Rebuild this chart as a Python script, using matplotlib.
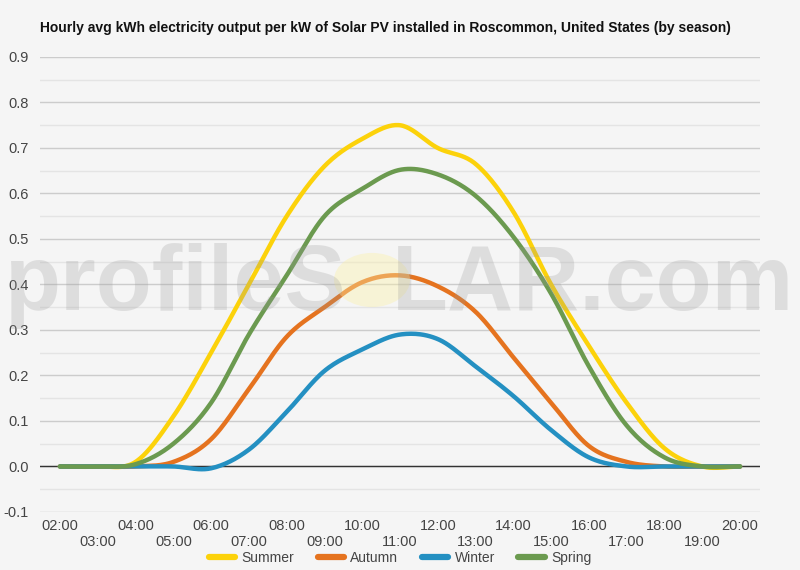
import numpy as np
import matplotlib
matplotlib.use("Agg")
import matplotlib.pyplot as plt
from matplotlib.patches import Circle

plt.rcParams['font.family'] = ['Liberation Sans', 'DejaVu Sans']

hours = list(range(2, 21))
hour_labels = ['%02d:00' % h for h in hours]

summer = [0.0, 0.0, 0.01, 0.11, 0.25, 0.40, 0.55, 0.66, 0.72, 0.75, 0.70, 0.665, 0.56, 0.40, 0.265, 0.14, 0.04, 0.0, 0.0]
autumn = [0.0, 0.0, 0.0, 0.01, 0.06, 0.17, 0.285, 0.35, 0.405, 0.42, 0.396, 0.34, 0.24, 0.14, 0.045, 0.01, 0.0, 0.0, 0.0]
winter = [0.0, 0.0, 0.0, 0.0, -0.004, 0.037, 0.12, 0.21, 0.257, 0.29, 0.28, 0.22, 0.155, 0.08, 0.02, 0.0, 0.0, 0.0, 0.0]
spring = [0.0, 0.0, 0.005, 0.05, 0.14, 0.29, 0.42, 0.55, 0.61, 0.652, 0.642, 0.595, 0.505, 0.38, 0.22, 0.09, 0.02, 0.0, 0.0]

series = [('Summer', summer, '#fcd20a'),
          ('Autumn', autumn, '#e5731f'),
          ('Winter', winter, '#2490c2'),
          ('Spring', spring, '#6b9a4f')]


def smooth(x, y, n=24):
    # cubic hermite curve through the points (catmull-rom tangents)
    x = np.asarray(x, float)
    y = np.asarray(y, float)
    m = np.gradient(y, x)
    m[0] = m[-1] = 0
    xs, ys = [], []
    for i in range(len(x) - 1):
        t = np.linspace(0, 1, n, endpoint=False)
        h = x[i + 1] - x[i]
        h00 = 2 * t**3 - 3 * t**2 + 1
        h10 = t**3 - 2 * t**2 + t
        h01 = -2 * t**3 + 3 * t**2
        h11 = t**3 - t**2
        xs.append(x[i] + t * h)
        ys.append(h00 * y[i] + h10 * h * m[i] + h01 * y[i + 1] + h11 * h * m[i + 1])
    xs.append([x[-1]])
    ys.append([y[-1]])
    return np.concatenate(xs), np.concatenate(ys)


fig = plt.figure(figsize=(8, 5.7), dpi=100, facecolor='#f5f5f5')
ax = fig.add_axes([0.05, 0.1018, 0.90, 0.7982])
ax.set_facecolor('#f5f5f5')

ax.set_ylim(-0.1, 0.9)
ax.set_xlim(2 - 20 / 37.8, 20 + 20 / 37.8)
ax.set_yticks(np.arange(-0.1, 0.91, 0.1))
ax.set_yticks(np.arange(-0.05, 0.9, 0.1), minor=True)
ax.set_yticklabels(['%.1f' % v for v in np.arange(-0.1, 0.91, 0.1)])
ax.grid(axis='y', which='major', color='#cccccc', linewidth=1)
ax.grid(axis='y', which='minor', color='#e4e4e4', linewidth=1)
ax.axhline(0, color='#333333', linewidth=1, zorder=2)
ax.set_axisbelow(True)
for s in ax.spines.values():
    s.set_visible(False)

ax.set_xticks(hours)
ax.set_xticklabels([lab if i % 2 == 0 else '\n' + lab for i, lab in enumerate(hour_labels)])
ax.tick_params(axis='both', which='both', length=0, labelsize=10.5, labelcolor='#444444')
ax.tick_params(axis='x', pad=5)
ax.tick_params(axis='y', pad=8)

for name, vals, col in series:
    sx, sy = smooth(hours, vals)
    ax.plot(sx, sy, color=col, linewidth=3.2, label=name, solid_capstyle='round', zorder=3)

# watermark
base_y = 1 - 310 / 570
fig.text(5 / 800, base_y, 'profileS', fontsize=66, fontweight='bold', color='#999999',
         alpha=0.25, va='baseline', ha='left', zorder=10)
fig.text(794 / 800, base_y, 'LAR.com', fontsize=66, fontweight='bold', color='#999999',
         alpha=0.25, va='baseline', ha='right', zorder=10)
fig.patches.append(Circle((372 / 800, 1 - 280 / 570), 38 / 800, transform=fig.transFigure,
                          facecolor='#fbf0a8', alpha=0.4, edgecolor='none', zorder=10))

fig.text(40 / 800, 1 - 28 / 570,
         'Hourly avg kWh electricity output per kW of Solar PV installed in Roscommon, United States (by season)',
         fontsize=10, fontweight='bold', color='#111111', va='center', ha='left')

fig.legend(loc='center', bbox_to_anchor=(0.5, 1 - 558 / 570), ncol=4, frameon=False,
           fontsize=10, handlelength=1.9, columnspacing=1.7, handletextpad=0.45,
           labelcolor='#444444')
for line in fig.legends[0].get_lines():
    line.set_linewidth(4.5)

fig.savefig('out.png', dpi=100, facecolor=fig.get_facecolor())
